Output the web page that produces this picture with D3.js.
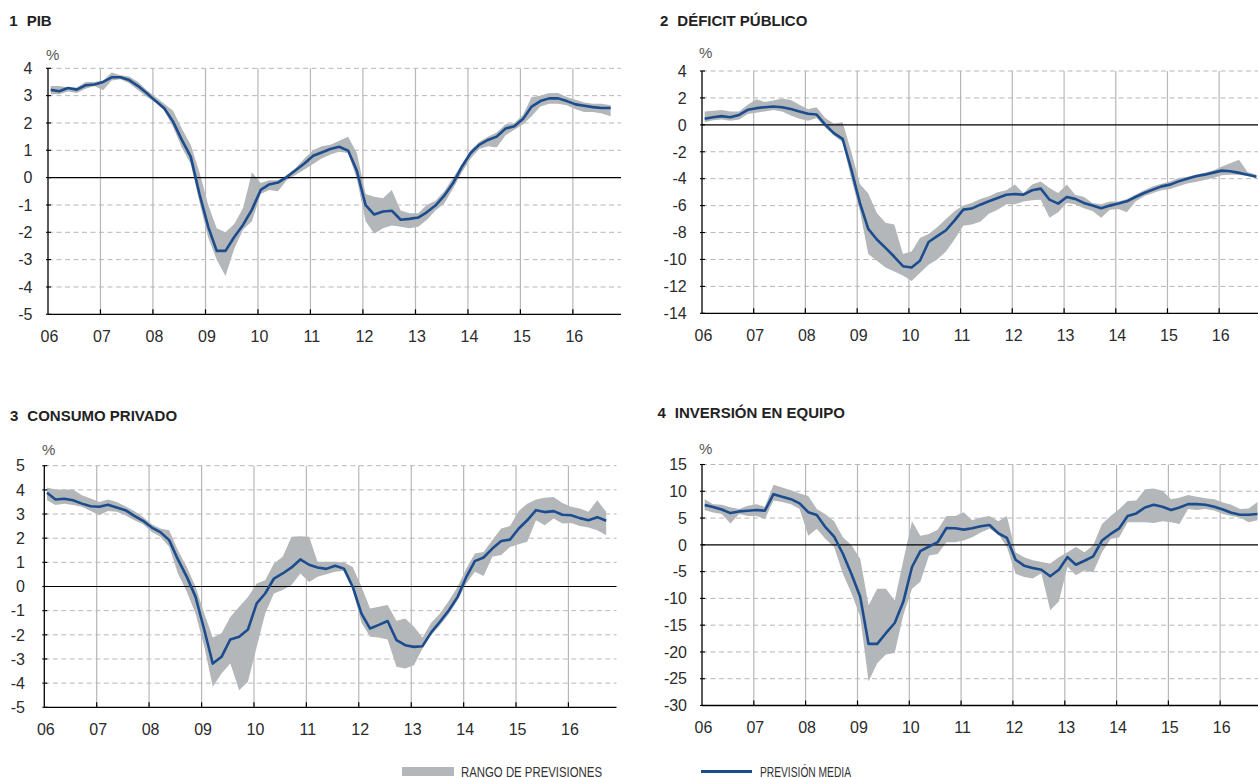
<!DOCTYPE html>
<html><head><meta charset="utf-8">
<script src="https://cdn.jsdelivr.net/npm/d3@7"></script>
<style>
body{margin:0;background:#fff;}
svg{display:block;font-family:"Liberation Sans",Arial,Helvetica,sans-serif;}
</style></head><body>
<svg id="chart" width="1258" height="778"></svg>
<script>
const periods = [
"2006-01","2006-03","2006-05","2006-07","2006-09","2006-11",
"2007-01","2007-03","2007-05","2007-07","2007-09","2007-11",
"2008-01","2008-03","2008-05","2008-07","2008-09","2008-11",
"2009-01","2009-03","2009-05","2009-07","2009-09","2009-11",
"2010-01","2010-03","2010-05","2010-07","2010-09","2010-11",
"2011-01","2011-03","2011-05","2011-07","2011-09","2011-11",
"2012-01","2012-03","2012-05","2012-07","2012-09","2012-11",
"2013-01","2013-03","2013-05","2013-07","2013-09","2013-11",
"2014-01","2014-03","2014-05","2014-07","2014-09","2014-11",
"2015-01","2015-03","2015-05","2015-07","2015-09","2015-11",
"2016-01","2016-03","2016-05","2016-07","2016-09"];

const yearLabels = ["06","07","08","09","10","11","12","13","14","15","16"];

// 1 PIB
const pibMedia = [3.21,3.16,3.28,3.22,3.38,3.41,3.5,3.67,3.67,3.57,3.35,3.09,2.8,2.54,2.05,1.38,0.77,-0.6,-1.8,-2.68,-2.68,-2.17,-1.72,-1.17,-0.45,-0.25,-0.18,0.02,0.27,0.52,0.8,0.92,1.05,1.13,0.99,0.25,-1.01,-1.35,-1.24,-1.21,-1.54,-1.51,-1.46,-1.27,-1.02,-0.66,-0.2,0.4,0.9,1.2,1.38,1.5,1.8,1.88,2.15,2.6,2.8,2.9,2.9,2.8,2.68,2.63,2.58,2.55,2.55];
const pibMax = [3.35,3.35,3.3,3.3,3.5,3.5,3.55,3.85,3.75,3.7,3.5,3.2,2.95,2.7,2.45,1.8,1.2,0.2,-1.0,-1.85,-2.0,-1.7,-1.1,0.2,-0.2,-0.1,-0.1,0.1,0.35,0.7,1.0,1.15,1.2,1.35,1.5,0.9,-0.6,-0.7,-0.75,-0.45,-1.2,-1.3,-1.3,-1.0,-0.85,-0.5,0.0,0.5,1.0,1.3,1.5,1.65,1.95,2.0,2.3,2.95,3.0,3.1,3.1,2.95,2.85,2.75,2.7,2.7,2.65];
const pibMin = [3.05,3.05,3.15,3.1,3.25,3.35,3.2,3.55,3.6,3.45,3.2,2.95,2.75,2.45,1.85,1.1,0.5,-0.9,-2.2,-3.0,-3.6,-2.6,-1.9,-1.6,-0.6,-0.45,-0.5,-0.1,0.1,0.3,0.5,0.7,0.85,0.95,0.9,-0.05,-1.6,-2.05,-1.85,-1.75,-1.8,-1.85,-1.8,-1.55,-1.2,-0.95,-0.4,0.2,0.7,1.05,1.15,1.1,1.55,1.75,1.95,2.25,2.6,2.7,2.7,2.65,2.5,2.4,2.4,2.35,2.25];

// 2 DÉFICIT PÚBLICO
const deficitMedia = [0.45,0.57,0.65,0.57,0.74,1.12,1.24,1.31,1.36,1.31,1.17,1.0,0.82,0.77,0.02,-0.62,-1.04,-3.3,-5.8,-7.73,-8.52,-9.14,-9.8,-10.5,-10.6,-10.1,-8.7,-8.27,-7.83,-7.1,-6.3,-6.22,-5.93,-5.68,-5.43,-5.19,-5.14,-5.19,-4.86,-4.74,-5.56,-5.85,-5.36,-5.5,-5.8,-6.0,-6.2,-6.0,-5.85,-5.68,-5.36,-5.06,-4.81,-4.57,-4.44,-4.2,-4.0,-3.82,-3.7,-3.55,-3.4,-3.45,-3.57,-3.7,-3.85];
const deficitMax = [1.0,1.05,1.1,1.0,1.0,1.5,1.9,1.7,1.8,1.95,1.85,1.5,1.15,1.3,0.5,0.1,0.2,-2.0,-4.4,-5.1,-6.54,-7.28,-7.4,-9.6,-9.4,-8.4,-8.1,-7.6,-7.0,-6.4,-6.0,-5.8,-5.5,-5.3,-5.0,-4.85,-4.44,-5.06,-4.44,-4.2,-4.7,-5.06,-4.44,-5.2,-5.35,-5.8,-5.9,-5.7,-5.7,-5.5,-5.2,-4.86,-4.57,-4.37,-4.2,-3.95,-3.85,-3.7,-3.55,-3.4,-3.1,-2.85,-2.6,-3.5,-3.7];
const deficitMin = [0.2,0.35,0.4,0.3,0.4,0.8,0.9,1.0,1.1,1.0,0.7,0.45,0.3,0.5,-0.2,-0.8,-1.3,-4.0,-6.4,-9.6,-10.1,-10.6,-10.9,-11.2,-11.6,-11.0,-10.4,-10.0,-9.4,-8.5,-7.5,-7.4,-7.2,-6.6,-6.3,-5.9,-5.9,-5.7,-5.6,-5.56,-6.9,-6.5,-5.8,-5.9,-6.2,-6.4,-6.9,-6.3,-6.25,-6.5,-5.7,-5.3,-5.06,-4.86,-4.77,-4.57,-4.35,-4.25,-4.1,-3.95,-3.75,-3.7,-3.7,-3.8,-3.95];

// 3 CONSUMO PRIVADO
const consumoMedia = [3.88,3.6,3.63,3.57,3.43,3.32,3.3,3.38,3.27,3.16,2.92,2.72,2.44,2.25,1.92,1.12,0.4,-0.43,-1.8,-3.19,-2.91,-2.19,-2.08,-1.78,-0.7,-0.29,0.33,0.54,0.79,1.12,0.9,0.79,0.73,0.86,0.74,-0.01,-1.12,-1.74,-1.59,-1.43,-2.22,-2.43,-2.5,-2.47,-1.9,-1.46,-0.98,-0.43,0.4,1.05,1.2,1.57,1.88,1.94,2.4,2.74,3.16,3.08,3.12,2.97,2.95,2.83,2.74,2.87,2.72];
const consumoMax = [4.1,4.01,4.01,4.01,3.78,3.64,3.5,3.6,3.5,3.32,3.12,2.88,2.58,2.4,2.33,1.5,0.81,-0.01,-1.12,-2.11,-1.94,-1.26,-0.84,-0.43,0.12,0.26,0.95,1.23,2.06,2.08,2.06,1.02,1.02,1.02,0.99,0.81,-0.01,-0.91,-0.84,-0.77,-1.42,-1.32,-1.67,-2.11,-1.5,-1.12,-0.59,-0.01,0.74,1.37,1.43,1.92,2.4,2.5,3.13,3.43,3.6,3.67,3.7,3.46,3.3,3.23,3.09,3.57,3.09];
const consumoMin = [3.57,3.37,3.43,3.37,3.3,3.12,2.95,3.13,3.09,2.95,2.74,2.58,2.26,2.06,1.65,0.54,-0.22,-1.12,-2.5,-4.15,-3.6,-3.19,-4.29,-3.94,-2.5,-1.12,-0.29,-0.15,0.06,0.54,0.19,0.4,0.51,0.61,0.65,-0.15,-1.5,-2.08,-2.11,-2.19,-3.32,-3.39,-3.26,-2.57,-2.01,-1.6,-1.14,-0.57,0.12,0.61,0.43,1.23,1.3,1.64,1.75,1.85,2.74,2.54,2.81,2.61,2.63,2.5,2.44,2.33,2.12];

// 4 INVERSIÓN EN EQUIPO
const inversionMedia = [7.42,7.05,6.61,5.93,6.24,6.37,6.49,6.37,9.46,8.96,8.53,7.73,6.1,5.56,3.3,1.55,-1.67,-5.5,-9.7,-18.5,-18.5,-16.5,-14.6,-10.6,-4.14,-1.17,-0.31,0.49,3.15,3.09,2.84,3.09,3.46,3.71,2.16,1.3,-2.78,-3.89,-4.33,-4.64,-5.87,-4.64,-2.29,-3.71,-2.97,-2.16,0.8,2.04,3.09,5.38,5.87,6.98,7.48,7.11,6.49,6.98,7.6,7.6,7.48,7.11,6.61,6.0,5.62,5.62,5.75];
const inversionMax = [8.5,7.6,7.5,7.0,6.7,7.3,7.6,7.1,11.2,10.7,10.2,9.6,9.1,6.7,5.7,4.4,1.4,-0.1,-2.6,-11.3,-8.2,-8.2,-10.4,-2.9,4.4,1.7,2.0,2.8,5.4,5.4,6.1,4.6,5.1,5.4,4.4,5.4,-1.4,-2.3,-2.9,-3.2,-3.5,-2.3,-1.4,-0.4,-1.4,-0.1,3.9,5.4,6.7,8.2,8.3,10.4,10.5,10.1,8.5,8.8,9.3,9.0,8.7,8.5,7.9,7.5,6.7,6.8,8.0];
const inversionMin = [6.5,6.06,5.75,4.0,5.75,5.4,5.4,4.8,8.3,8.0,7.6,6.7,1.7,3.0,1.1,-0.4,-5.4,-9.1,-13.4,-25.5,-22.1,-20.5,-20.2,-13.1,-8.2,-6.9,-2.0,-1.7,0.5,0.5,0.8,1.4,2.3,3.0,2.0,-0.4,-5.4,-6.0,-6.3,-5.3,-12.2,-10.6,-4.1,-5.7,-4.8,-5.1,-1.4,1.1,1.4,4.2,4.2,4.2,4.1,4.4,4.2,3.9,6.7,6.5,6.7,6.4,5.75,5.4,5.1,4.2,4.6];

const pibTicks = [-5,-4,-3,-2,-1,0,1,2,3,4];
const deficitTicks = [-14,-12,-10,-8,-6,-4,-2,0,2,4];
const consumoTicks = [-5,-4,-3,-2,-1,0,1,2,3,4,5];
const inversionTicks = [-30,-25,-20,-15,-10,-5,0,5,10,15];

const titles = ["PIB","DÉFICIT PÚBLICO","CONSUMO PRIVADO","INVERSIÓN EN EQUIPO"];
const legendLabels = ["RANGO DE PREVISIONES","PREVISIÓN MEDIA"];

const BAND = "#b4b7ba", LINE = "#1b4c8d", GRID = "#b7b7b7", TXT = "#2b2b2b";

const parseP = s => { const [y,m] = s.split("-").map(Number); return new Date(y, m-1, 20); };
const dates = periods.map(parseP);

const svg = d3.select("#chart");

const panels = [
  {num:"1", title:titles[0], media:pibMedia, max:pibMax, min:pibMin, ticks:pibTicks,
   left:48, right:621, top:68.3, bottom:314.3, labelX:32.5, tx:9.3, ty:25.7, px:46, py:60},
  {num:"2", title:titles[1], media:deficitMedia, max:deficitMax, min:deficitMin, ticks:deficitTicks,
   left:702, right:1266.6, top:71, bottom:313.3, labelX:686.7, tx:660, ty:26, px:699, py:58},
  {num:"3", title:titles[2], media:consumoMedia, max:consumoMax, min:consumoMin, ticks:consumoTicks,
   left:44.3, right:616.5, top:465.7, bottom:707.3, labelX:25, tx:10, ty:421, px:42, py:455},
  {num:"4", title:titles[3], media:inversionMedia, max:inversionMax, min:inversionMin, ticks:inversionTicks,
   left:702, right:1267.7, top:464.5, bottom:705.5, labelX:687, tx:657.5, ty:418, px:699, py:454}
];

panels.forEach(p => {
  const g = svg.append("g");
  const x = d3.scaleTime().domain([new Date(2006,0,1), new Date(2016,11,1)]).range([p.left, p.right]);
  const y = d3.scaleLinear().domain(d3.extent(p.ticks)).range([p.bottom, p.top]);
  const data = dates.map((d,i) => ({date:d, v:p.media[i], hi:p.max[i], lo:p.min[i]}));
  const yearDates = yearLabels.map(l => new Date(2000 + (+l), 0, 1));

  // title
  const t = g.append("text").attr("x", p.tx).attr("y", p.ty)
    .attr("font-size", 15).attr("font-weight", "bold").attr("fill", "#222");
  t.append("tspan").text(p.num);
  t.append("tspan").attr("dx", 9).text(p.title);

  // percent label
  g.append("text").attr("x", p.px).attr("y", p.py).attr("font-size", 15)
    .attr("fill", "#555").text("%");

  // horizontal dashed grid
  g.append("g").selectAll("line").data(p.ticks.filter(v => v !== 0 && v !== p.ticks[0]))
    .join("line")
    .attr("x1", p.left).attr("x2", p.right)
    .attr("y1", d => y(d)).attr("y2", d => y(d))
    .attr("stroke", GRID).attr("stroke-width", 1).attr("stroke-dasharray", "5,3.5");

  // vertical grid
  g.append("g").selectAll("line").data(yearDates.slice(1)).join("line")
    .attr("x1", d => x(d)).attr("x2", d => x(d))
    .attr("y1", p.top).attr("y2", p.bottom)
    .attr("stroke", GRID).attr("stroke-width", 1.2);

  // band
  g.append("path").datum(data)
    .attr("d", d3.area().x(d => x(d.date)).y0(d => y(d.lo)).y1(d => y(d.hi)))
    .attr("fill", BAND);

  // zero line
  g.append("line").attr("x1", p.left).attr("x2", p.right)
    .attr("y1", y(0)).attr("y2", y(0)).attr("stroke", "#000").attr("stroke-width", 1.2);

  // mean line
  g.append("path").datum(data)
    .attr("d", d3.line().x(d => x(d.date)).y(d => y(d.v)))
    .attr("fill", "none").attr("stroke", LINE).attr("stroke-width", 2.6)
    .attr("stroke-linejoin", "round");

  // axes lines
  g.append("line").attr("x1", p.left).attr("x2", p.left).attr("y1", p.top).attr("y2", p.bottom)
    .attr("stroke", "#000").attr("stroke-width", 1.3);
  g.append("line").attr("x1", p.left).attr("x2", p.right).attr("y1", p.bottom).attr("y2", p.bottom)
    .attr("stroke", "#000").attr("stroke-width", 1.3);
  // year ticks
  g.append("g").selectAll("line").data(yearDates.slice(1)).join("line")
    .attr("x1", d => x(d)).attr("x2", d => x(d))
    .attr("y1", p.bottom - 5).attr("y2", p.bottom)
    .attr("stroke", "#000").attr("stroke-width", 1.2);
  // y ticks small
  g.append("g").selectAll("line").data(p.ticks).join("line")
    .attr("x1", p.left - 2).attr("x2", p.left + 3)
    .attr("y1", d => y(d)).attr("y2", d => y(d))
    .attr("stroke", "#000").attr("stroke-width", 1.1);

  // y labels
  g.append("g").selectAll("text").data(p.ticks).join("text")
    .attr("x", p.labelX).attr("y", d => y(d)).attr("dy", "0.36em")
    .attr("text-anchor", "end").attr("font-size", 16).attr("fill", TXT)
    .text(d => d);

  // x labels
  g.append("g").selectAll("text").data(yearDates).join("text")
    .attr("x", d => x(d) + 1.5).attr("y", p.bottom + 21.5).attr("dy", "0.36em")
    .attr("text-anchor", "middle").attr("font-size", 16).attr("fill", TXT)
    .text((d,i) => yearLabels[i]);
});

// legend
const lg = svg.append("g").attr("font-family", "'Liberation Sans Narrow','Arial Narrow','Liberation Sans',sans-serif")
  .attr("font-size", 14.5).attr("fill", "#333");
lg.append("rect").attr("x", 402).attr("y", 767).attr("width", 52).attr("height", 9).attr("fill", BAND);
lg.append("text").attr("x", 461).attr("y", 776.5).attr("textLength", 141)
  .attr("lengthAdjust", "spacingAndGlyphs").text(legendLabels[0]);
lg.append("line").attr("x1", 701).attr("x2", 752).attr("y1", 771.5).attr("y2", 771.5)
  .attr("stroke", LINE).attr("stroke-width", 3);
lg.append("text").attr("x", 760).attr("y", 776.5).attr("textLength", 91)
  .attr("lengthAdjust", "spacingAndGlyphs").text(legendLabels[1]);
</script>
</body></html>
